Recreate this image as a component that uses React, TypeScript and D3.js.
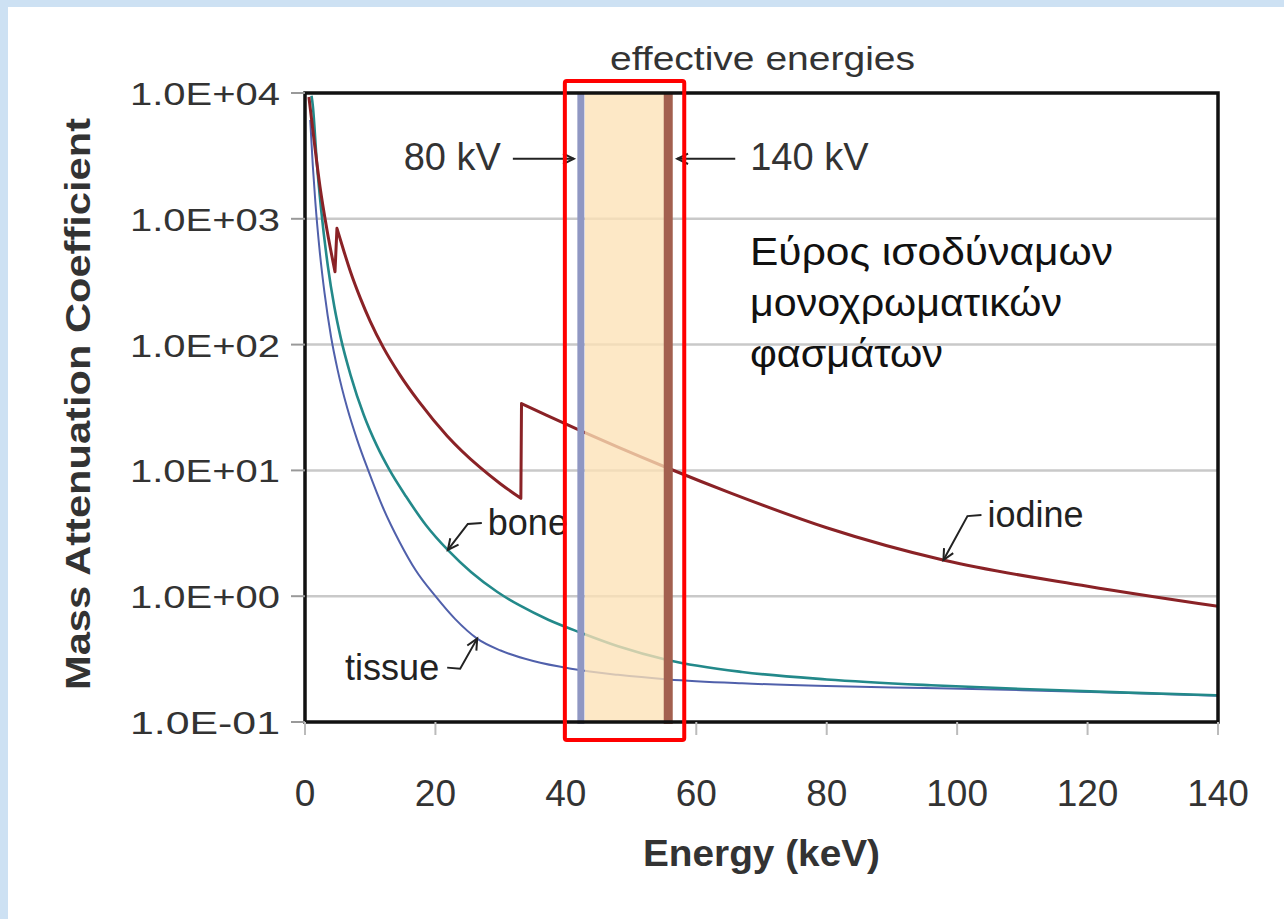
import React from "react";
import * as d3 from "d3";

// axis ticks
const energyTicks = [0, 20, 40, 60, 80, 100, 120, 140];
const decadeTicks = [1e-1, 1e0, 1e1, 1e2, 1e3, 1e4];
const decadeLabels = ["1.0E-01", "1.0E+00", "1.0E+01", "1.0E+02", "1.0E+03", "1.0E+04"];

// mass attenuation curves (keV, cm2/g)
const iodineE = [0.6, 1.3, 2.3, 3.4, 4.6, 4.9, 6, 7, 8.5, 10, 12, 14.5, 17.5, 21.8, 26.8, 30, 33.1, 33.2, 37, 42.4, 48, 55.7, 65.3, 80, 98, 120, 140];
const iodineMu = [9300, 4600, 1800, 800, 380, 840, 545, 376, 233, 153, 95, 58, 35, 18.8, 10.6, 7.8, 6.0, 34, 27.5, 20.5, 15.3, 10.4, 6.6, 3.5, 1.93, 1.2, 0.83];

const boneE = [1.0, 1.2, 1.8, 2.5, 3.5, 4.5, 5.5, 7, 9, 11, 13, 15.5, 18.5, 22, 25.5, 29.5, 33, 37.3, 42.4, 48, 55.7, 67, 80, 96, 110, 125, 140];
const boneMu = [9500, 7900, 2860, 1150, 423, 200, 112, 57, 27.7, 15.8, 10, 6.2, 3.7, 2.3, 1.55, 1.08, 0.84, 0.65, 0.51, 0.4, 0.31, 0.25, 0.218, 0.196, 0.183, 0.172, 0.163];

const tissueE = [0.8, 1.2, 1.6, 2.2, 3, 4, 5, 6.5, 8, 9.7, 12, 14.5, 17, 20, 23, 26.4, 30, 35, 40.8, 48, 55.7, 67, 80, 95, 110, 125, 140];
const tissueMu = [6100, 2630, 1330, 590, 256, 115, 63, 31, 17.5, 10, 5, 2.7, 1.6, 1.0, 0.66, 0.46, 0.37, 0.305, 0.265, 0.237, 0.218, 0.203, 0.193, 0.186, 0.179, 0.171, 0.162];

// effective energies of the 80 kV and 140 kV spectra
const kvLabels = ["80 kV", "140 kV"];
const effectiveE = [42.3, 55.7];

const greekLines = ["Εύρος ισοδύναμων", "μονοχρωματικών", "φασμάτων"];
const greekWidths = [363, 312, 193];

const W = 1284;
const H = 919;
const margin = { left: 305, right: 66, top: 93, bottom: 197 };
const FONT = "'Liberation Sans', Arial, Helvetica, sans-serif";

const x = d3.scaleLinear().domain([0, 140]).range([margin.left, W - margin.right]);
const y = d3.scaleLog().domain([0.1, 1e4]).range([H - margin.bottom, margin.top]);

const line = d3
  .line<[number, number]>()
  .x((d) => x(d[0]))
  .y((d) => y(d[1]))
  .curve(d3.curveMonotoneX);

// smooth pieces between absorption edges, joined by straight jumps
function edgePath(es: number[], mus: number[]) {
  const pts = es.map((v, i) => [v, mus[i]] as [number, number]);
  const pieces: [number, number][][] = [[pts[0]]];
  for (let i = 1; i < pts.length; i++) {
    if (pts[i][1] > pts[i - 1][1]) pieces.push([]);
    pieces[pieces.length - 1].push(pts[i]);
  }
  let d = "";
  pieces.forEach((p, k) => {
    const seg = line(p) || "";
    d += k === 0 ? seg : `L${x(p[0][0])},${y(p[0][1])}` + seg.replace(/^M[^CL]*/, "");
  });
  return d;
}

// log interpolation on a series, for placing callout tips on the curve
function muAt(es: number[], mus: number[], e: number) {
  const i = Math.max(1, d3.bisectLeft(es, e));
  const t = (e - es[i - 1]) / (es[i] - es[i - 1]);
  return Math.exp(Math.log(mus[i - 1]) + t * (Math.log(mus[i]) - Math.log(mus[i - 1])));
}

// open arrowhead at (tx,ty) coming from (fx,fy)
function arrowHead(fx: number, fy: number, tx: number, ty: number, len = 12) {
  const a = Math.atan2(ty - fy, tx - fx);
  const s = 0.45;
  const p1 = [tx - len * Math.cos(a - s), ty - len * Math.sin(a - s)];
  const p2 = [tx - len * Math.cos(a + s), ty - len * Math.sin(a + s)];
  return `M${p1[0]},${p1[1]}L${tx},${ty}L${p2[0]},${p2[1]}`;
}

function Callout({ e, mu, dx, dy, label, side }: { e: number; mu: number; dx: number; dy: number; label: string; side: "left" | "right" }) {
  const tx = x(e);
  const ty = y(mu);
  const kx = tx + dx;
  const ky = ty + dy;
  const ex = side === "right" ? kx + 14 : kx - 13;
  return (
    <g>
      <path d={`M${ex},${ky}L${kx},${ky + 1}L${tx},${ty}`} fill="none" stroke="#222" strokeWidth={2} />
      <path d={arrowHead(kx, ky + 1, tx, ty)} fill="none" stroke="#222" strokeWidth={2} />
      <text
        x={side === "right" ? ex + 6 : ex - 8}
        y={ky + 12}
        fontSize={36}
        fill="#222"
        textAnchor={side === "right" ? "start" : "end"}
      >
        {label}
      </text>
    </g>
  );
}

export default function App() {
  const x0 = margin.left;
  const x1 = W - margin.right;
  const y0 = margin.top;
  const y1 = H - margin.bottom;
  const bandL = x(effectiveE[0]);
  const bandR = x(effectiveE[1]);
  const kvY = y(3000);

  return (
    <svg
      width={W}
      height={H}
      style={{ position: "fixed", left: 0, top: 0 }}
      fontFamily={FONT}
    >
      <rect width={W} height={H} fill="#cde1f3" />
      <rect x={8} y={7} width={W - 8} height={H - 7} fill="#ffffff" />

      <defs>
        <clipPath id="plot">
          <rect x={x0} y={y0} width={x1 - x0} height={y1 - y0} />
        </clipPath>
      </defs>

      {/* gridlines */}
      {decadeTicks.slice(1, -1).map((t) => (
        <line key={t} x1={x0} x2={x1} y1={y(t)} y2={y(t)} stroke="#c9c9c9" strokeWidth={2.5} />
      ))}

      {/* curves */}
      <g clipPath="url(#plot)" fill="none" strokeLinejoin="round">
        <path d={edgePath(tissueE, tissueMu)} stroke="#5060ab" strokeWidth={2} />
        <path d={edgePath(boneE, boneMu)} stroke="#23898a" strokeWidth={2.6} />
        <path d={edgePath(iodineE, iodineMu)} stroke="#8a2226" strokeWidth={3} />
      </g>

      {/* effective-energy band */}
      <rect x={bandL + 4} y={y0} width={bandR - bandL - 8} height={y1 - y0} fill="#fce2b6" fillOpacity={0.78} />
      <line x1={bandL} x2={bandL} y1={y0} y2={y1 + 2} stroke="#8f97c3" strokeWidth={7} />
      <line x1={bandR} x2={bandR} y1={y0} y2={y1 + 2} stroke="#a3604f" strokeWidth={9} />

      {/* frame */}
      <rect x={x0} y={y0} width={x1 - x0} height={y1 - y0} fill="none" stroke="#111" strokeWidth={3.5} />

      {/* ticks */}
      {decadeTicks.map((t) => (
        <line key={t} x1={x0 - 14} x2={x0} y1={y(t)} y2={y(t)} stroke="#999" strokeWidth={2} />
      ))}
      {energyTicks.map((t) => (
        <line key={t} x1={x(t)} x2={x(t)} y1={y1} y2={y1 + 13} stroke="#bbb" strokeWidth={2} />
      ))}

      {/* y tick labels */}
      {decadeTicks.map((t, i) => (
        <text
          key={t}
          x={x0 - 175}
          y={y(t) + 12}
          fontSize={31}
          fill="#333"
          textLength={150}
          lengthAdjust="spacingAndGlyphs"
        >
          {decadeLabels[i]}
        </text>
      ))}

      {/* x tick labels */}
      {energyTicks.map((t) => (
        <text key={t} x={x(t)} y={806} fontSize={37} fill="#333" textAnchor="middle">
          {t}
        </text>
      ))}

      {/* axis titles */}
      <text
        transform={`translate(90,690) rotate(-90)`}
        fontSize={35}
        fontWeight="bold"
        fill="#333"
        textLength={572}
        lengthAdjust="spacingAndGlyphs"
      >
        Mass Attenuation Coefficient
      </text>
      <text
        x={643}
        y={866}
        fontSize={36}
        fontWeight="bold"
        fill="#333"
        textLength={237}
        lengthAdjust="spacingAndGlyphs"
      >
        Energy (keV)
      </text>

      {/* effective energies annotation */}
      <text x={610} y={70} fontSize={33} fill="#333" textLength={305} lengthAdjust="spacingAndGlyphs">
        effective energies
      </text>
      <path d={`M${bandL - 68},${kvY}L${bandL - 7},${kvY}`} stroke="#222" strokeWidth={2} />
      <path d={arrowHead(bandL - 68, kvY, bandL - 7, kvY)} fill="none" stroke="#222" strokeWidth={2} />
      <text x={bandL - 80} y={kvY + 11} fontSize={38} fill="#333" textAnchor="end">
        {kvLabels[0]}
      </text>
      <path d={`M${bandR + 67},${kvY}L${bandR + 9},${kvY}`} stroke="#222" strokeWidth={2} />
      <path d={arrowHead(bandR + 67, kvY, bandR + 9, kvY)} fill="none" stroke="#222" strokeWidth={2} />
      <text x={bandR + 82} y={kvY + 11} fontSize={38} fill="#333">
        {kvLabels[1]}
      </text>

      {/* curve callouts */}
      <Callout e={21.9} mu={muAt(boneE, boneMu, 21.9)} dx={20} dy={-27} label="bone" side="right" />
      <Callout e={26.4} mu={muAt(tissueE, tissueMu, 26.4)} dx={-17} dy={29} label="tissue" side="left" />
      <Callout e={97.9} mu={muAt(iodineE, iodineMu, 97.9)} dx={24} dy={-45} label="iodine" side="right" />

      {/* Greek note */}
      {greekLines.map((s, i) => (
        <text
          key={s}
          x={750}
          y={265 + i * 51}
          fontSize={38}
          fill="#111"
          textLength={greekWidths[i]}
          lengthAdjust="spacingAndGlyphs"
        >
          {s}
        </text>
      ))}

      {/* highlight box */}
      <rect
        x={bandL - 16}
        y={y0 - 12}
        width={bandR - bandL + 32}
        height={y1 - y0 + 30}
        fill="none"
        stroke="#ff0000"
        strokeWidth={4}
        rx={2}
      />
    </svg>
  );
}
